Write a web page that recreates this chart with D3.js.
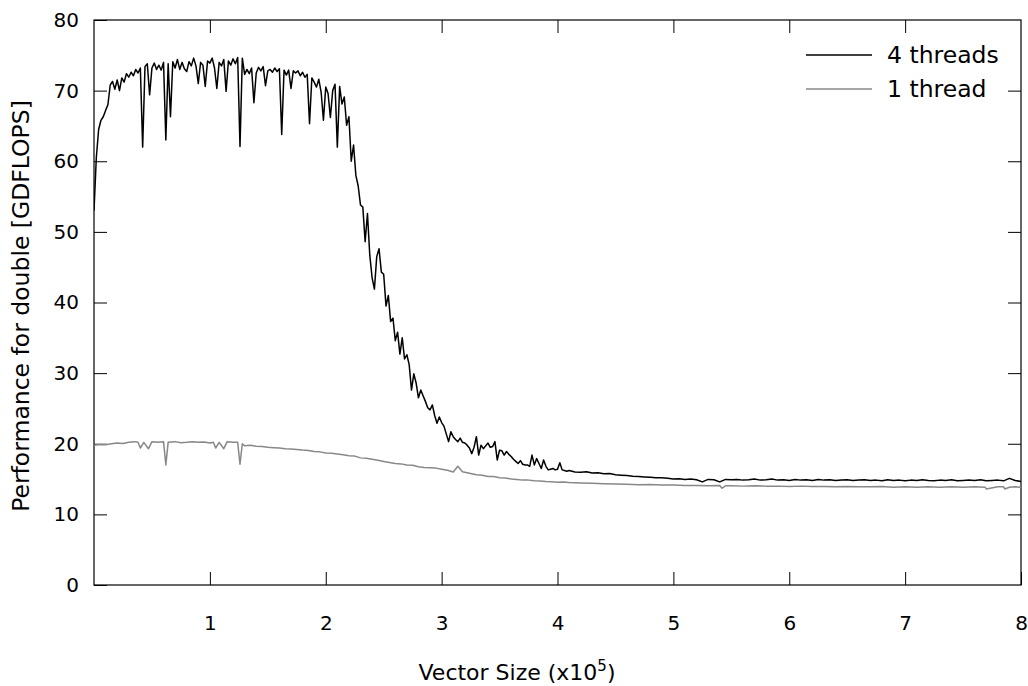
<!DOCTYPE html>
<html>
<head>
<meta charset="utf-8">
<script src="https://cdn.jsdelivr.net/npm/d3@7"></script>
<style>
  html, body { margin: 0; padding: 0; background: #fff; }
  svg { display: block; }
  text { font-family: "DejaVu Sans", sans-serif; fill: #000; }
</style>
</head>
<body>
<svg id="chart" width="1028" height="686"></svg>
<script>
// Vector size in units of 1e5 elements, performance in GFLOPS (double precision)
const size4 = [
  0.00,0.02,0.04,0.06,0.08,0.10,0.12,0.14,0.16,0.18,0.20,0.22,0.24,0.26,0.28,0.30,0.32,0.34,0.36,0.38,
  0.40,0.42,0.44,0.46,0.48,0.50,0.52,0.54,0.56,0.58,0.60,0.62,0.64,0.66,0.68,0.70,0.72,0.74,0.76,0.78,
  0.80,0.82,0.84,0.86,0.88,0.90,0.92,0.94,0.96,0.98,1.00,1.02,1.04,1.06,1.08,1.10,1.12,1.14,1.16,1.18,
  1.20,1.22,1.24,1.26,1.28,1.30,1.32,1.34,1.36,1.38,1.40,1.42,1.44,1.46,1.48,1.50,1.52,1.54,1.56,1.58,
  1.60,1.62,1.64,1.66,1.68,1.70,1.72,1.74,1.76,1.78,1.80,1.82,1.84,1.86,1.88,1.90,1.92,1.94,1.96,1.98,
  2.00,2.02,2.04,2.06,2.08,2.10,2.12,2.14,2.16,2.18,2.20,2.22,2.24,2.26,2.28,2.30,2.32,2.34,2.36,2.38,
  2.40,2.42,2.44,2.46,2.48,2.50,2.52,2.54,2.56,2.58,2.60,2.62,2.64,2.66,2.68,2.70,2.72,2.74,2.76,2.78,
  2.80,2.82,2.84,2.86,2.88,2.90,2.92,2.94,2.96,2.98,3.00,3.02,3.04,3.06,3.08,3.10,3.12,3.14,3.16,3.18,
  3.20,3.22,3.24,3.26,3.28,3.30,3.32,3.34,3.36,3.38,3.40,3.42,3.44,3.46,3.48,3.50,3.52,3.54,3.56,3.58,
  3.60,3.62,3.64,3.66,3.68,3.70,3.72,3.74,3.76,3.78,3.80,3.82,3.84,3.86,3.88,3.90,3.92,3.94,3.96,3.98,
  4.00,4.02,4.04,4.06,4.08,4.10,4.15,4.20,4.25,4.30,4.35,4.40,4.45,4.50,4.55,4.60,4.65,4.70,4.75,4.80,
  4.85,4.90,4.95,5.00,5.05,5.10,5.15,5.20,5.25,5.30,5.35,5.40,5.45,5.50,5.55,5.60,5.65,5.70,5.75,5.80,
  5.85,5.90,5.95,6.00,6.05,6.10,6.15,6.20,6.25,6.30,6.35,6.40,6.45,6.50,6.55,6.60,6.65,6.70,6.75,6.80,
  6.85,6.90,6.95,7.00,7.05,7.10,7.15,7.20,7.25,7.30,7.35,7.40,7.45,7.50,7.55,7.60,7.65,7.70,7.75,7.80,
  7.85,7.90,7.95,8.00
];
const perf4 = [
  53.0,60.5,64.5,65.8,66.3,67.2,68.0,70.8,71.3,70.2,71.5,70.0,71.8,71.2,72.4,71.9,72.6,72.1,73.0,72.5,
  73.2,62.0,73.4,73.8,69.4,73.2,73.9,73.0,73.6,72.9,74.0,63.0,73.8,66.3,74.1,73.2,74.4,73.0,74.0,73.1,
  72.7,74.1,73.5,74.6,73.5,71.0,74.0,73.6,70.6,74.2,73.9,74.6,73.2,70.3,74.0,73.5,74.4,69.9,74.2,73.6,
  74.5,73.8,74.7,62.1,74.6,72.3,73.0,72.4,73.2,68.3,72.5,73.3,72.8,73.4,70.7,72.8,73.0,72.6,73.2,72.7,
  73.1,63.8,72.9,72.2,72.9,70.3,72.8,72.5,72.8,72.1,72.6,71.9,72.3,65.3,71.8,71.2,70.5,71.6,69.8,65.8,
  70.5,69.6,66.2,70.0,70.9,62.0,70.6,68.1,69.1,65.1,66.3,60.0,62.3,58.0,56.5,53.8,53.5,48.6,52.6,46.7,
  43.5,41.9,46.5,47.6,44.3,44.0,39.5,41.0,37.3,37.8,34.6,35.8,32.7,35.0,32.0,32.6,31.2,27.6,29.9,28.6,
  26.5,27.6,26.8,26.0,25.1,24.8,25.5,24.0,22.9,23.8,23.0,22.5,21.4,20.3,21.7,21.0,20.6,20.3,20.8,20.2,
  20.1,19.8,19.4,18.6,19.5,21.0,18.4,19.8,19.3,19.7,20.1,19.5,19.6,20.3,17.7,19.1,19.0,18.4,18.9,18.5,
  18.2,17.8,17.5,17.2,17.6,17.1,17.0,17.0,16.8,18.4,17.0,17.9,17.2,16.5,17.7,16.8,16.3,16.4,16.5,16.3,
  16.4,17.3,16.3,16.2,16.1,16.2,16.0,15.95,16.05,15.85,15.9,15.75,15.8,15.6,15.55,15.5,15.4,15.35,15.3,15.25,
  15.2,15.2,15.1,15.0,15.05,14.95,15.0,14.9,14.6,14.95,14.9,14.6,14.95,14.9,14.95,14.85,14.9,15.0,14.85,14.9,
  15.0,14.85,14.9,14.8,14.95,14.85,14.9,14.8,14.95,14.85,14.9,14.8,14.85,14.9,14.8,14.85,14.9,14.8,14.85,14.75,
  14.9,14.8,14.85,14.75,14.85,14.8,14.9,14.8,14.75,14.85,14.8,14.9,14.75,14.8,14.85,14.8,14.9,14.75,14.8,14.85,
  14.75,15.1,14.8,14.65
];

const size1 = [
  0.00,0.05,0.10,0.15,0.20,0.25,0.30,0.35,0.38,0.40,0.43,0.47,0.50,0.55,0.60,0.62,0.64,0.70,0.75,0.80,
  0.85,0.90,0.95,1.00,1.03,1.05,1.08,1.12,1.15,1.20,1.24,1.26,1.28,1.30,1.35,1.40,1.45,1.50,1.55,1.60,
  1.65,1.70,1.75,1.80,1.85,1.90,1.95,2.00,2.05,2.10,2.15,2.20,2.25,2.30,2.35,2.40,2.45,2.50,2.55,2.60,
  2.65,2.70,2.75,2.80,2.85,2.90,2.95,3.00,3.05,3.10,3.14,3.18,3.25,3.30,3.35,3.40,3.45,3.50,3.55,3.60,
  3.65,3.70,3.75,3.80,3.85,3.90,3.95,4.00,4.05,4.10,4.20,4.30,4.40,4.50,4.60,4.70,4.80,4.90,5.00,5.10,
  5.20,5.30,5.40,5.42,5.45,5.50,5.60,5.70,5.80,5.90,6.00,6.10,6.20,6.30,6.40,6.50,6.60,6.70,6.80,6.90,
  7.00,7.10,7.20,7.30,7.40,7.50,7.60,7.69,7.70,7.80,7.85,7.86,7.90,7.95,8.00
];
const perf1 = [
  19.8,19.9,19.85,20.0,20.1,20.05,20.2,20.3,20.2,19.4,20.2,19.3,20.3,20.2,20.3,17.0,20.2,20.3,20.15,20.2,
  20.3,20.2,20.25,20.1,20.2,19.4,20.2,19.3,20.3,20.2,20.2,17.1,20.0,19.7,19.8,19.65,19.6,19.5,19.45,19.4,
  19.3,19.25,19.2,19.1,19.05,18.9,18.85,18.7,18.65,18.55,18.45,18.3,18.25,18.0,17.95,17.8,17.65,17.5,17.35,17.2,
  17.15,17.0,16.95,16.75,16.65,16.6,16.55,16.4,16.25,16.0,16.8,16.05,15.8,15.6,15.55,15.35,15.35,15.2,15.15,15.0,
  14.95,14.85,14.85,14.75,14.72,14.65,14.62,14.55,14.57,14.5,14.45,14.4,14.35,14.3,14.25,14.2,14.22,14.15,14.15,14.1,
  14.1,14.05,14.1,13.7,14.05,14.05,14.0,14.05,14.0,14.0,13.95,14.0,13.95,13.95,13.9,13.95,13.9,13.9,13.95,13.85,
  13.9,13.85,13.9,13.85,13.9,13.85,13.9,13.85,13.6,13.9,13.9,13.6,13.85,13.9,13.85
];

const yTicks = [0, 10, 20, 30, 40, 50, 60, 70, 80];
const xTicks = [1, 2, 3, 4, 5, 6, 7, 8];
const seriesNames = ["4 threads", "1 thread"];
const seriesColors = ["#000000", "#888888"];

const svg = d3.select("#chart");
const plot = { left: 94, right: 1021, top: 20, bottom: 585 };
const tickLen = 13;

const x = d3.scaleLinear().domain([0, 8]).range([plot.left, plot.right]);
const y = d3.scaleLinear().domain([0, 80]).range([plot.bottom, plot.top]);

const fontSize = 20;

// Left axis: ticks point into the plot, labels outside
const gLeft = svg.append("g").attr("transform", `translate(${plot.left},0)`)
  .call(d3.axisLeft(y).tickValues(yTicks).tickSize(-tickLen).tickPadding(15).tickFormat(d3.format("d")));
// Right mirror ticks
const gRight = svg.append("g").attr("transform", `translate(${plot.right},0)`)
  .call(d3.axisRight(y).tickValues(yTicks.slice(1, -1)).tickSize(-tickLen).tickFormat(""));
// Bottom axis
const gBottom = svg.append("g").attr("transform", `translate(0,${plot.bottom})`)
  .call(d3.axisBottom(x).tickValues(xTicks).tickSize(-tickLen).tickPadding(31).tickFormat(d3.format("d")));
// Top mirror ticks
const gTop = svg.append("g").attr("transform", `translate(0,${plot.top})`)
  .call(d3.axisTop(x).tickValues(xTicks.slice(0, -1)).tickSize(-tickLen).tickFormat(""));

[gLeft, gRight, gBottom, gTop].forEach(g => {
  g.select(".domain").remove();
  g.selectAll(".tick line").attr("stroke", "#000").attr("stroke-width", 1);
  g.selectAll(".tick text").style("font-family", "DejaVu Sans").style("font-size", fontSize + "px").attr("fill", "#000");
});

// Plot frame
svg.append("rect")
  .attr("x", plot.left).attr("y", plot.top)
  .attr("width", plot.right - plot.left).attr("height", plot.bottom - plot.top)
  .attr("fill", "none").attr("stroke", "#000").attr("stroke-width", 1.2);

// Data lines
const line = d3.line().x(d => x(d[0])).y(d => y(d[1]));
svg.append("clipPath").attr("id", "plot-clip")
  .append("rect").attr("x", plot.left).attr("y", plot.top)
  .attr("width", plot.right - plot.left).attr("height", plot.bottom - plot.top);

const data1 = d3.zip(size1, perf1);
const data4 = d3.zip(size4, perf4);

svg.append("path").datum(data1)
  .attr("clip-path", "url(#plot-clip)")
  .attr("fill", "none").attr("stroke", seriesColors[1]).attr("stroke-width", 1.5)
  .attr("stroke-linejoin", "round")
  .attr("d", line);
svg.append("path").datum(data4)
  .attr("clip-path", "url(#plot-clip)")
  .attr("fill", "none").attr("stroke", seriesColors[0]).attr("stroke-width", 1.5)
  .attr("stroke-linejoin", "round")
  .attr("d", line);

// Legend
const legend = svg.append("g");
seriesNames.forEach((name, i) => {
  const ly = 55 + i * 34;
  legend.append("line")
    .attr("x1", 806).attr("x2", 872).attr("y1", ly).attr("y2", ly)
    .attr("stroke", seriesColors[i]).attr("stroke-width", 1.5);
  legend.append("text")
    .attr("x", 887).attr("y", ly).attr("dy", "0.35em")
    .style("font-size", "23.5px")
    .text(name);
});

// Axis titles
svg.append("text")
  .attr("transform", `translate(29,306) rotate(-90)`)
  .attr("text-anchor", "middle")
  .style("font-size", "23.5px")
  .text("Performance for double [GDFLOPS]");

const xTitle = svg.append("text")
  .attr("x", 517).attr("y", 680)
  .attr("text-anchor", "middle")
  .style("font-size", "22px");
xTitle.append("tspan").text("Vector Size (x10");
xTitle.append("tspan").attr("dy", -9).style("font-size", "15px").text("5");
xTitle.append("tspan").attr("dy", 9).text(")");
</script>
</body>
</html>
